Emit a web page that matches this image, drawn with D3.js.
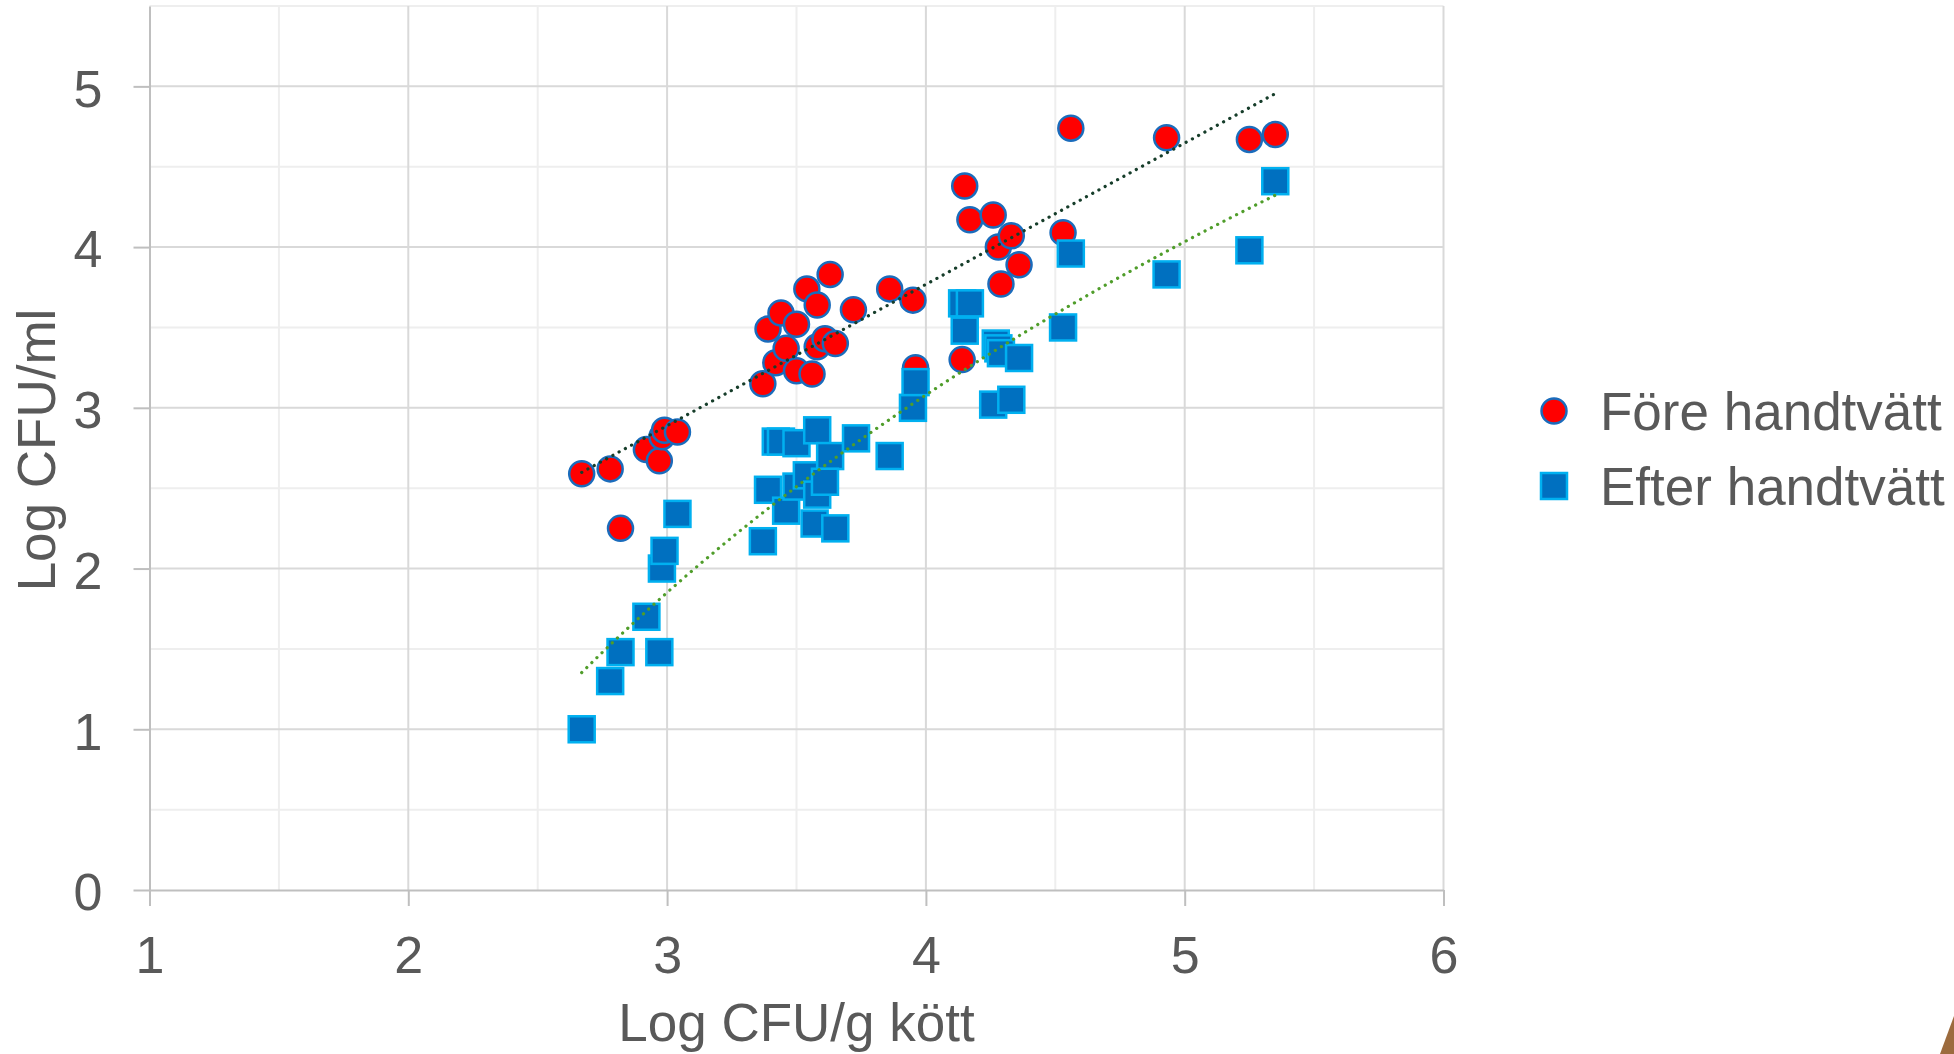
<!DOCTYPE html>
<html>
<head>
<meta charset="utf-8">
<script src="https://cdn.jsdelivr.net/npm/d3@7"></script>
<style>
  body { margin: 0; background: #fff; }
  text { font-family: "Liberation Sans", Arial, sans-serif; fill: #595959; }
</style>
</head>
<body>
<svg class="chart"></svg>
<script>
// Före handtvätt: [log CFU/g kött, log CFU/ml]
const fore = [
    [2.67, 2.59], [2.78, 2.62], [2.82, 2.25], [2.92, 2.74], [2.97, 2.67],
    [2.98, 2.82], [2.99, 2.86], [3.04, 2.85], [3.37, 3.15], [3.42, 3.28],
    [3.39, 3.49], [3.44, 3.59], [3.46, 3.37], [3.50, 3.52], [3.50, 3.23],
    [3.54, 3.74], [3.58, 3.64], [3.56, 3.21], [3.63, 3.83], [3.58, 3.38],
    [3.61, 3.43], [3.65, 3.40], [3.72, 3.61], [3.86, 3.74], [3.95, 3.67],
    [3.96, 3.25], [4.14, 3.30], [4.15, 4.38], [4.17, 4.17], [4.26, 4.20],
    [4.28, 4.00], [4.33, 4.07], [4.36, 3.89], [4.29, 3.77], [4.53, 4.09],
    [4.56, 4.74], [4.93, 4.68], [5.25, 4.67], [5.35, 4.70]
];

// Efter handtvätt
const efter = [
    [2.67, 1.00], [2.78, 1.30], [2.82, 1.48], [2.92, 1.70], [2.97, 1.48],
    [2.98, 2.00], [2.99, 2.11], [3.04, 2.34], [3.37, 2.17], [3.39, 2.49],
    [3.42, 2.79], [3.44, 2.79], [3.46, 2.36], [3.50, 2.78], [3.50, 2.51],
    [3.54, 2.58], [3.58, 2.86], [3.57, 2.28], [3.58, 2.46], [3.63, 2.70],
    [3.61, 2.54], [3.65, 2.25], [3.73, 2.81], [3.86, 2.70], [3.95, 3.00],
    [3.96, 3.16], [4.14, 3.65], [4.17, 3.65], [4.15, 3.48], [4.26, 3.02],
    [4.27, 3.40], [4.28, 3.37], [4.29, 3.34], [4.33, 3.05], [4.36, 3.31],
    [4.53, 3.50], [4.56, 3.96], [4.93, 3.83], [5.25, 3.98], [5.35, 4.41]
];

const xTicks = [1, 2, 3, 4, 5, 6];
const yTicks = [0, 1, 2, 3, 4, 5];
const seriesNames = ["Före handtvätt", "Efter handtvätt"];

const width = 1954, height = 1054,
      margin = { top: 6, left: 149.5, right: 510.5, bottom: 164 };

const svg = d3.select(".chart").attr("width", width).attr("height", height);

const x = d3.scaleLinear().domain([1, 6]).range([margin.left, width - margin.right]);
const y = d3.scaleLinear().domain([0, 5.5]).range([height - margin.bottom, margin.top]);

// minor gridlines (every 0.5)
const minorX = d3.range(1.5, 6, 1);
const minorY = d3.range(0.5, 5.6, 1);
svg.append("g").selectAll("line").data(minorX).enter().append("line")
    .attr("x1", d => x(d)).attr("x2", d => x(d))
    .attr("y1", y(0)).attr("y2", y(5.5))
    .attr("stroke", "#eeeeee").attr("stroke-width", 2);
svg.append("g").selectAll("line").data(minorY).enter().append("line")
    .attr("x1", x(1)).attr("x2", x(6))
    .attr("y1", d => y(d)).attr("y2", d => y(d))
    .attr("stroke", "#eeeeee").attr("stroke-width", 2);

// major gridlines
svg.append("g").selectAll("line").data(xTicks.slice(1)).enter().append("line")
    .attr("x1", d => x(d)).attr("x2", d => x(d))
    .attr("y1", y(0)).attr("y2", y(5.5))
    .attr("stroke", "#d9d9d9").attr("stroke-width", 2);
svg.append("g").selectAll("line").data(yTicks.slice(1)).enter().append("line")
    .attr("x1", x(1)).attr("x2", x(6))
    .attr("y1", d => y(d)).attr("y2", d => y(d))
    .attr("stroke", "#d9d9d9").attr("stroke-width", 2);

// axes
const xAxis = d3.axisBottom(x).tickValues(xTicks).tickFormat(d3.format("d"))
    .tickSize(16).tickPadding(30).tickSizeOuter(0);
const yAxis = d3.axisLeft(y).tickValues(yTicks).tickFormat(d3.format("d"))
    .tickSize(16).tickPadding(31).tickSizeOuter(0);

const gx = svg.append("g").attr("transform", `translate(0,${y(0)})`).call(xAxis);
const gy = svg.append("g").attr("transform", `translate(${x(1)},0)`).call(yAxis);
[gx, gy].forEach(g => {
    g.select(".domain").attr("stroke", "#bfbfbf").attr("stroke-width", 2);
    g.selectAll(".tick line").attr("stroke", "#bfbfbf").attr("stroke-width", 2);
    g.selectAll(".tick text").style("font-size", "52px").attr("fill", "#595959")
        .style("font-family", "'Liberation Sans', Arial, sans-serif");
});
gy.selectAll(".tick text").attr("dy", "0.38em");

// axis titles
svg.append("text")
    .attr("x", (x(1) + x(6)) / 2).attr("y", 1041)
    .attr("text-anchor", "middle").style("font-size", "53px")
    .text("Log CFU/g kött");
svg.append("text")
    .attr("transform", `translate(55,${(y(0) + y(5.5)) / 2 + 2}) rotate(-90)`)
    .attr("text-anchor", "middle").style("font-size", "53px")
    .text("Log CFU/ml");

// markers
svg.append("g").selectAll("circle").data(fore).enter().append("circle")
    .attr("cx", d => x(d[0])).attr("cy", d => y(d[1])).attr("r", 12.5)
    .attr("fill", "#ff0000").attr("stroke", "#1a6cbc").attr("stroke-width", 2.5);

const side = 26;
svg.append("g").selectAll("rect").data(efter).enter().append("rect")
    .attr("x", d => x(d[0]) - side / 2).attr("y", d => y(d[1]) - side / 2)
    .attr("width", side).attr("height", side)
    .attr("fill", "#0070c0").attr("stroke", "#00b0f0").attr("stroke-width", 2.5);

// trendlines: linear for Före, logarithmic for Efter (least squares)
function linFit(pts, fx) {
    const mx = d3.mean(pts, p => fx(p[0])), my = d3.mean(pts, p => p[1]);
    let sxy = 0, sxx = 0;
    pts.forEach(p => { sxy += (fx(p[0]) - mx) * (p[1] - my); sxx += (fx(p[0]) - mx) ** 2; });
    const a = sxy / sxx;
    return v => a * fx(v) + my - a * mx;
}
const foreFit = linFit(fore, v => v);
const efterFit = linFit(efter, v => Math.log(v));

const line = d3.line().x(d => x(d[0])).y(d => y(d[1]));
function trend(pts, fit, color) {
    const [x0, x1] = d3.extent(pts, p => p[0]);
    const samples = d3.range(0, 41).map(i => x0 + (x1 - x0) * i / 40);
    svg.append("path")
        .attr("d", line(samples.map(v => [v, fit(v)])))
        .attr("fill", "none").attr("stroke", color).attr("stroke-width", 3.2)
        .attr("stroke-linecap", "round").attr("stroke-dasharray", "0.1 7");
}
trend(fore, foreFit, "#163d2a");
trend(efter, efterFit, "#4f9d2a");

// legend
const legend = svg.append("g");
legend.append("circle").attr("cx", 1554).attr("cy", 411).attr("r", 12.5)
    .attr("fill", "#ff0000").attr("stroke", "#1a6cbc").attr("stroke-width", 2.5);
legend.append("rect").attr("x", 1554 - 13).attr("y", 486 - 13).attr("width", 26).attr("height", 26)
    .attr("fill", "#0070c0").attr("stroke", "#00b0f0").attr("stroke-width", 2.5);
legend.selectAll("text").data(seriesNames).enter().append("text")
    .attr("x", 1600).attr("y", (d, i) => 430 + i * 75)
    .style("font-size", "53px").text(d => d);

// corner decoration
svg.append("polygon").attr("points", "1940,1054 1954,1016 1954,1054").attr("fill", "#9c6b3e");
</script>
</body>
</html>
